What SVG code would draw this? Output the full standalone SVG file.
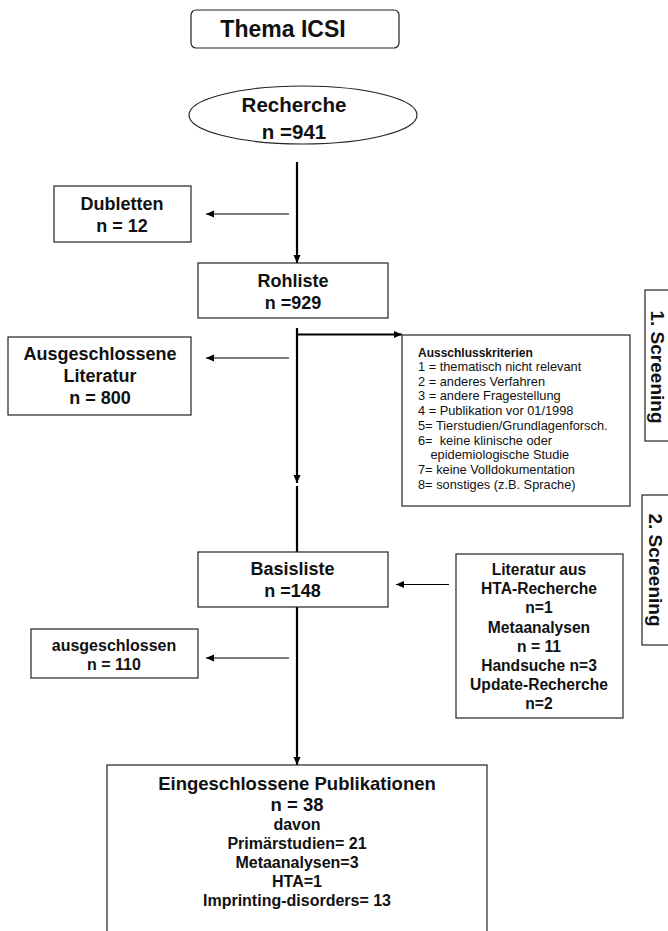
<svg xmlns="http://www.w3.org/2000/svg" width="668" height="931" viewBox="0 0 668 931">
<defs>
<style>
.box{fill:#fff;stroke:#222;stroke-width:1.2}
.t{font-family:"Liberation Sans",Arial,sans-serif;fill:#111}
.b{font-weight:bold;text-anchor:middle}
.r{font-size:12.8px}
.thick{stroke:#000;stroke-width:2.2;fill:none}
.thin{stroke:#000;stroke-width:1.2;fill:none}
</style>
<marker id="ah" markerUnits="userSpaceOnUse" markerWidth="9" markerHeight="8" refX="8" refY="4" orient="auto">
<path d="M0,0.5 L8,4 L0,7.5 z" fill="#000"/>
</marker>
</defs>
<rect width="668" height="931" fill="#fff"/>

<g id="connectors">
<line class="thick" x1="297" y1="162" x2="297" y2="263" marker-end="url(#ah)"/>
<line class="thick" x1="297" y1="328" x2="297" y2="483" marker-end="url(#ah)"/>
<line class="thick" x1="296" y1="334.5" x2="402" y2="334.5" marker-end="url(#ah)"/>
<line class="thick" x1="297" y1="486" x2="297" y2="552"/>
<line class="thick" x1="297" y1="607" x2="297" y2="765" marker-end="url(#ah)"/>
<line class="thin" x1="289" y1="214" x2="206" y2="214" marker-end="url(#ah)"/>
<line class="thin" x1="289" y1="358" x2="206" y2="358" marker-end="url(#ah)"/>
<line class="thin" x1="289" y1="658" x2="206" y2="658" marker-end="url(#ah)"/>
<line class="thin" x1="449" y1="584.5" x2="396" y2="584.5" marker-end="url(#ah)"/>
</g>

<g id="thema">
<rect class="box" x="191" y="10" width="208" height="38" rx="5"/>
<text class="t b" x="283" y="37" font-size="23">Thema ICSI</text>
</g>

<g id="recherche">
<ellipse class="box" cx="303" cy="115" rx="114" ry="29"/>
<text class="t b" x="294" y="112" font-size="20.5">Recherche</text>
<text class="t b" x="294" y="139" font-size="20.5">n =941</text>
</g>

<g id="dubletten">
<rect class="box" x="54" y="186" width="137" height="56"/>
<text class="t b" x="122" y="210" font-size="18">Dubletten</text>
<text class="t b" x="122" y="232" font-size="18">n = 12</text>
</g>

<g id="rohliste">
<rect class="box" x="198" y="263" width="190" height="55"/>
<text class="t b" x="293" y="287" font-size="18">Rohliste</text>
<text class="t b" x="293" y="308.5" font-size="18">n =929</text>
</g>

<g id="ausgeschlossene-literatur">
<rect class="box" x="8" y="337" width="183" height="78"/>
<text class="t b" x="100" y="360" font-size="18">Ausgeschlossene</text>
<text class="t b" x="100" y="382" font-size="18">Literatur</text>
<text class="t b" x="100" y="403.5" font-size="18">n = 800</text>
</g>

<g id="ausschlusskriterien">
<rect class="box" x="402" y="335" width="228" height="171"/>
<text class="t" x="418" y="356.5" font-size="12" font-weight="bold">Ausschlusskriterien</text>
<text class="t r" x="418" y="371">1 = thematisch nicht relevant</text>
<text class="t r" x="418" y="385.7">2 = anderes Verfahren</text>
<text class="t r" x="418" y="400.4">3 = andere Fragestellung</text>
<text class="t r" x="418" y="415.1">4 = Publikation vor 01/1998</text>
<text class="t r" x="418" y="429.8">5= Tierstudien/Grundlagenforsch.</text>
<text class="t r" x="418" y="444.5" xml:space="preserve">6=  keine klinische oder</text>
<text class="t r" x="430.5" y="459.2">epidemiologische Studie</text>
<text class="t r" x="418" y="473.9">7= keine Volldokumentation</text>
<text class="t r" x="418" y="488.6">8= sonstiges (z.B. Sprache)</text>
</g>

<g id="screening1">
<rect class="box" x="645" y="290" width="40" height="151"/>
<text class="t b" transform="translate(651,367) rotate(90)" font-size="19">1. Screening</text>
</g>

<g id="screening2">
<rect class="box" x="642" y="495" width="40" height="150"/>
<text class="t b" transform="translate(649,570) rotate(90)" font-size="19">2. Screening</text>
</g>

<g id="basisliste">
<rect class="box" x="198" y="552" width="190" height="55"/>
<text class="t b" x="292.5" y="575" font-size="18">Basisliste</text>
<text class="t b" x="292.5" y="597" font-size="18">n =148</text>
</g>

<g id="literatur">
<rect class="box" x="456" y="554" width="167" height="164"/>
<text class="t b" x="539" y="575" font-size="15.6">Literatur aus</text>
<text class="t b" x="539" y="594.2" font-size="15.6">HTA-Recherche</text>
<text class="t b" x="539" y="613.4" font-size="15.6">n=1</text>
<text class="t b" x="539" y="632.6" font-size="15.6">Metaanalysen</text>
<text class="t b" x="539" y="651.8" font-size="15.6">n = 11</text>
<text class="t b" x="539" y="671" font-size="15.6">Handsuche n=3</text>
<text class="t b" x="539" y="690.2" font-size="15.6">Update-Recherche</text>
<text class="t b" x="539" y="709.4" font-size="15.6">n=2</text>
</g>

<g id="ausgeschlossen">
<rect class="box" x="31" y="629" width="167" height="49"/>
<text class="t b" x="114" y="651" font-size="16">ausgeschlossen</text>
<text class="t b" x="114" y="670" font-size="16">n = 110</text>
</g>

<g id="eingeschlossene">
<rect class="box" x="107" y="765" width="380" height="190"/>
<text class="t b" x="297" y="789.5" font-size="18.5">Eingeschlossene Publikationen</text>
<text class="t b" x="297" y="811" font-size="18.5">n = 38</text>
<text class="t b" x="297" y="830" font-size="16">davon</text>
<text class="t b" x="297" y="849.3" font-size="16">Primärstudien= 21</text>
<text class="t b" x="297" y="868.3" font-size="16">Metaanalysen=3</text>
<text class="t b" x="297" y="886.7" font-size="16">HTA=1</text>
<text class="t b" x="297" y="905.7" font-size="16">Imprinting-disorders= 13</text>
</g>
</svg>
